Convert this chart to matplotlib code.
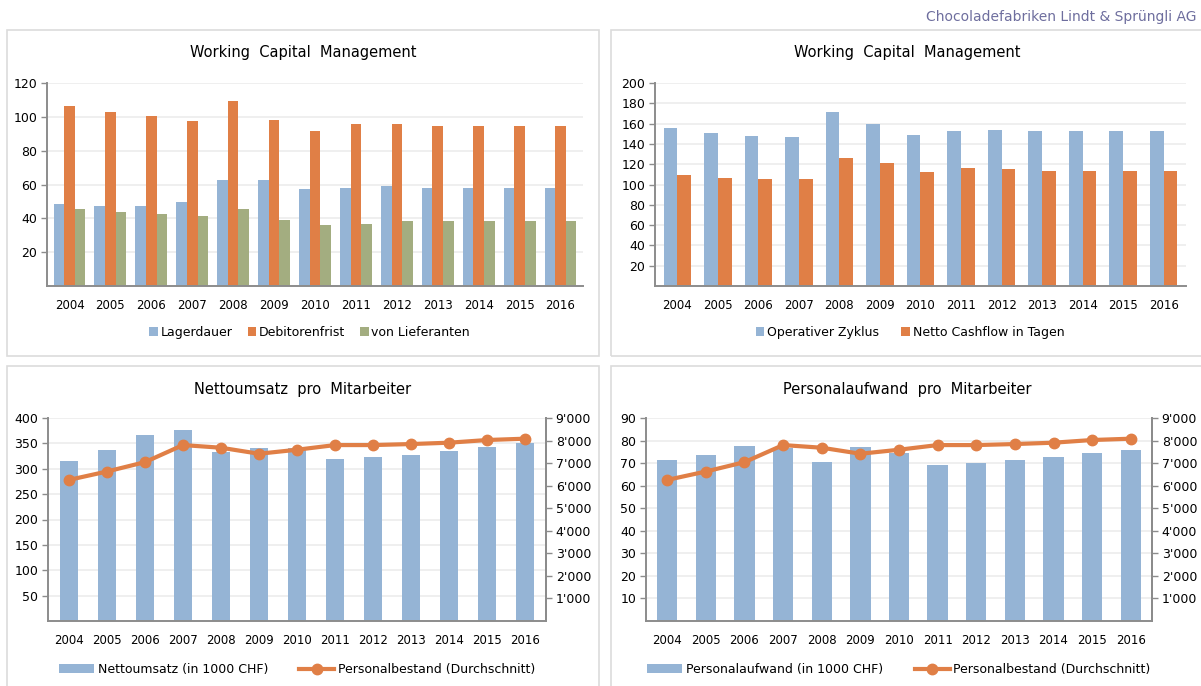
import matplotlib
matplotlib.use("Agg")
import matplotlib.pyplot as plt
from matplotlib.patches import Rectangle
from matplotlib.ticker import FuncFormatter
import numpy as np

plt.rcParams['font.family'] = ['DejaVu Sans']

years = ['2004', '2005', '2006', '2007', '2008', '2009', '2010',
         '2011', '2012', '2013', '2014', '2015', '2016']

# Working Capital Management (Tage)
lagerdauer = [48.7, 47.1, 47.1, 49.5, 62.5, 62.5, 57.3, 58.1, 58.9, 58.1, 58.1, 58.1, 58.1]
debitorenfrist = [106.4, 102.7, 100.7, 97.7, 109.4, 98.3, 91.8, 95.6, 95.6, 94.8, 94.8, 94.8, 94.8]
von_lieferanten = [45.7, 43.5, 42.8, 41.2, 45.7, 39.2, 36.1, 36.8, 38.4, 38.4, 38.4, 38.4, 38.4]

operativer_zyklus = [155.3, 150.4, 148.1, 146.8, 171.1, 159.9, 149.1, 153.0, 154.0, 153.0, 153.0, 153.0, 153.0]
netto_cashflow = [109.0, 106.4, 105.1, 105.1, 126.1, 121.2, 112.6, 116.3, 114.9, 113.6, 113.6, 113.6, 113.6]

# pro Mitarbeiter
nettoumsatz = [315.8, 337.5, 366.4, 376.3, 332.9, 340.1, 340.0, 318.4, 323.0, 327.6, 335.5, 342.8, 350.0]
personalaufwand = [71.6, 73.7, 77.6, 76.6, 70.5, 77.0, 74.3, 69.3, 69.9, 71.6, 72.7, 74.3, 75.9]
personalbestand = [6255, 6627, 7043, 7800, 7682, 7415, 7593, 7800, 7800, 7845, 7905, 8024, 8083]

BLUE = '#95B4D5'
ORANGE = '#E07F46'
GREEN = '#A3AD80'
GRID = '#ECECEC'
SPINE = '#8C8C8C'

W, H = 1201, 686
fig = plt.figure(figsize=(W / 100, H / 100), dpi=100)


def box(x0, y0, x1, y1):
    # rectangle in pixel coords (top-left origin) -> figure fraction
    return [x0 / W, 1 - y1 / H, (x1 - x0) / W, (y1 - y0) / H]


def panel(x0, y0, x1, y1):
    fig.patches.append(Rectangle((x0 / W, 1 - y1 / H), (x1 - x0) / W, (y1 - y0) / H,
                                 transform=fig.transFigure, fill=False,
                                 edgecolor='#DCDCDC', lw=1.2))


def style(ax, ymax, step):
    ax.set_ylim(0, ymax)
    ax.set_yticks(np.arange(step, ymax + step / 2, step))
    ax.yaxis.grid(True, color=GRID, lw=1.2)
    ax.set_axisbelow(True)
    for s in ['top', 'right']:
        ax.spines[s].set_visible(False)
    for s in ['left', 'bottom']:
        ax.spines[s].set_color(SPINE)
        ax.spines[s].set_linewidth(1.4)
    ax.tick_params(axis='y', length=4, color=SPINE, width=1, labelsize=9, pad=3)
    ax.tick_params(axis='x', length=0, labelsize=8.5, pad=9)
    ax.set_xlim(-0.55, len(years) - 0.45)
    ax.set_xticks(range(len(years)))
    ax.set_xticklabels(years)


def title(x, y, txt):
    fig.text(x / W, 1 - y / H, txt, ha='center', va='center', fontsize=10.5)


x = np.arange(len(years))

panel(7, 30, 599, 356)
panel(611, 30, 1212, 356)
panel(7, 366, 599, 690)
panel(611, 366, 1212, 690)

fig.text(1197 / W, 1 - 17 / H, 'Chocoladefabriken Lindt & Sprüngli AG',
         ha='right', va='center', fontsize=10, color='#6E6E9E')

# oben links
ax1 = fig.add_axes(box(47, 83, 583, 286))
bw = 0.26
ax1.bar(x - bw, lagerdauer, bw, color=BLUE, label='Lagerdauer')
ax1.bar(x, debitorenfrist, bw, color=ORANGE, label='Debitorenfrist')
ax1.bar(x + bw, von_lieferanten, bw, color=GREEN, label='von Lieferanten')
style(ax1, 120, 20)
title(303, 53, 'Working  Capital  Management')
ax1.legend(loc='center', bbox_to_anchor=(0.49, -0.23), ncol=3, frameon=False,
           fontsize=9, handlelength=0.7, handleheight=0.7, handletextpad=0.2,
           columnspacing=1.2)

# oben rechts
ax2 = fig.add_axes(box(655, 83, 1186, 286))
bw = 0.34
ax2.bar(x - bw / 2, operativer_zyklus, bw, color=BLUE, label='Operativer Zyklus')
ax2.bar(x + bw / 2, netto_cashflow, bw, color=ORANGE, label='Netto Cashflow in Tagen')
style(ax2, 200, 20)
title(907, 53, 'Working  Capital  Management')
ax2.legend(loc='center', bbox_to_anchor=(0.48, -0.23), ncol=2, frameon=False,
           fontsize=9, handlelength=0.7, handleheight=0.7, handletextpad=0.2,
           columnspacing=1.8)

thousands = FuncFormatter(lambda v, p: f"{int(v):,}".replace(',', "'"))


def unten(rect, bars, bar_label, bw, ymax, step, ttl_x, ttl):
    ax = fig.add_axes(box(*rect))
    ax.bar(x, bars, bw, color=BLUE, label=bar_label)
    style(ax, ymax, step)
    ax.spines['right'].set_visible(True)
    ax.spines['right'].set_color(SPINE)
    ax.spines['right'].set_linewidth(1.4)
    axr = ax.twinx()
    axr.plot(x, personalbestand, color=ORANGE, lw=3, marker='o', ms=7.5,
             label='Personalbestand (Durchschnitt)')
    axr.set_ylim(0, 9000)
    axr.set_yticks(np.arange(1000, 9001, 1000))
    axr.yaxis.set_major_formatter(thousands)
    for s in ['top', 'left', 'bottom']:
        axr.spines[s].set_visible(False)
    axr.spines['right'].set_color(SPINE)
    axr.spines['right'].set_linewidth(1.4)
    axr.tick_params(axis='y', length=4, color=SPINE, width=1, labelsize=9, pad=3)
    title(ttl_x, 389, ttl)
    h1, l1 = ax.get_legend_handles_labels()
    h2, l2 = axr.get_legend_handles_labels()
    axr.legend(h1 + h2, l1 + l2, loc='center', bbox_to_anchor=(0.5, -0.24), ncol=2,
               frameon=False, fontsize=9, handlelength=2.8, handleheight=0.7,
               handletextpad=0.3, columnspacing=2.5)
    return ax


unten((48, 418, 546, 621), nettoumsatz, 'Nettoumsatz (in 1000 CHF)', 0.48, 400, 50,
      303, 'Nettoumsatz  pro  Mitarbeiter')
unten((646, 418, 1152, 621), personalaufwand, 'Personalaufwand (in 1000 CHF)', 0.53, 90, 10,
      907, 'Personalaufwand  pro  Mitarbeiter')

fig.savefig('out.png', dpi=100)
